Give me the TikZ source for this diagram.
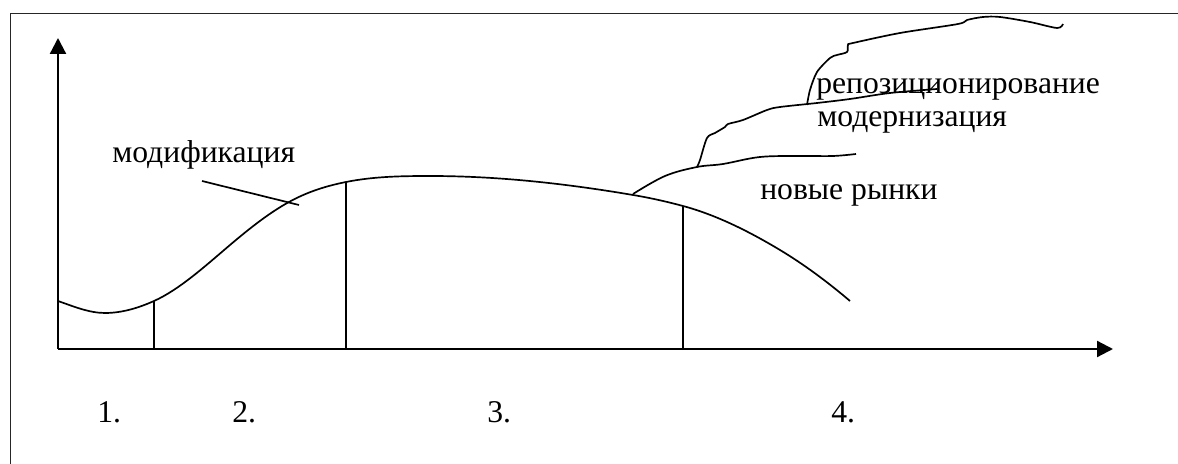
\documentclass[tikz,border=0pt]{standalone}
\usepackage{fontspec}
\setmainfont{Liberation Serif}
\usetikzlibrary{arrows.meta}

\begin{document}
\begin{tikzpicture}[x=0.025cm, y=-0.025cm,
            axis/.style={line width=1.6pt, -{Triangle[length=0.4cm, width=0.4cm]}},
            curve/.style={line width=1.2pt},
            lbl/.style={anchor=base west, inner sep=0pt, font=\fontsize{22.5pt}{27pt}\selectfont}
            ]
            \useasboundingbox (0,0) rectangle (1178,464);
            \clip (0,0) rectangle (1178,464);
            \draw[line width=1pt, black!85] (10.5,480) -- (10.5,13.5) -- (1190,13.5);

            % axes
            \coordinate (o) at (58,349);
            \coordinate (ytip) at (58,38);
            \coordinate (xtip) at (1113,349);
            \draw[axis] (o) -- (ytip);
            \draw[axis] (o) -- (xtip);

            % life cycle
            \draw[curve] (58,301) .. controls (73.7,306.5) and (89.3,313) .. (105,313)
                .. controls (121.3,313) and (137.7,308.3) .. (154,301)
                .. controls (179.3,289.6) and (204.7,266.5) .. (230,245)
                .. controls (249.7,228.3) and (269.3,212.8) .. (289,202)
                .. controls (308,191.5) and (327,185.8) .. (346,182)
                .. controls (374,176.4) and (402,176) .. (430,176)
                .. controls (497.7,176) and (565.3,183.5) .. (633,195)
                .. controls (649.7,197.8) and (666.3,201.5) .. (683,206)
                .. controls (715.3,214.7) and (747.7,230.6) .. (780,250)
                .. controls (803.3,264) and (826.7,281.2) .. (850,301);
            \draw[curve] (154,349) -- (154,301);
            \draw[curve] (346,349) -- (346,182);
            \draw[curve] (683,349) -- (683,206);

            % branches
            \draw[curve] plot[smooth, tension=0.6] coordinates {(633,194) (665,176) (697,167) (723,164) (760,157) (800,156) (833,156) (856,154)};
            \draw[curve] plot[smooth, tension=0.5] coordinates {(697,167) (700,160) (707,138) (715,133) (725,127) (728,124) (743,120) (767,110) (780,107) (817,103) (850,99) (890,93) (937,89)};
            \draw[curve] plot[smooth, tension=0.5] coordinates {(807,105) (810,90) (817,72) (830,58) (837,55) (847,52) (848,45) (853,43) (900,33) (958,24) (967,20) (983,17) (1000,17) (1030,22) (1057,28) (1063,24)};

            \node[lbl] (mod) at (112,163) {модификация};
            \node[lbl] (markets) at (760,200) {новые рынки};
            \node[lbl] (modern) at (817,127) {модернизация};
            \node[lbl] (repos) at (816,94) {репозиционирование};
            \draw[curve] (202,181) -- (299,205);

            \node[lbl] (n1) at (97,423) {1.};
            \node[lbl] (n2) at (232,423) {2.};
            \node[lbl] (n3) at (487,423) {3.};
            \node[lbl] (n4) at (831,423) {4.};

            \end{tikzpicture}
\end{document}
